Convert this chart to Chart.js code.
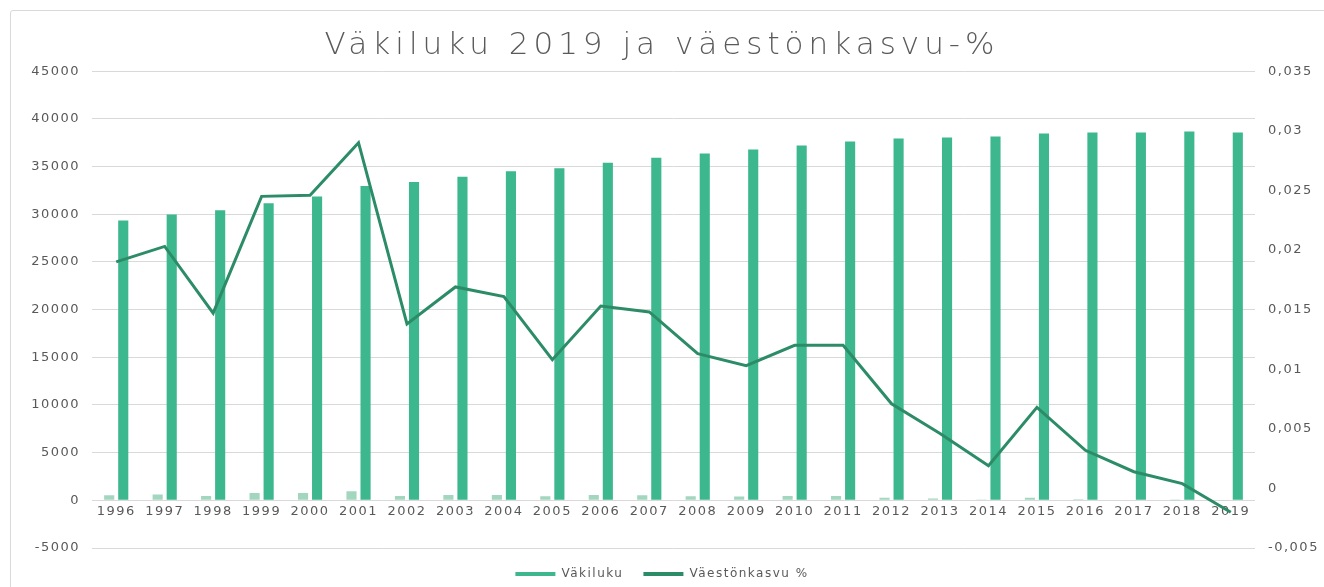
<!DOCTYPE html>
<html><head><meta charset="utf-8">
<script src="https://cdn.jsdelivr.net/npm/chart.js@4.4.1/dist/chart.umd.min.js"></script>
<style>
html,body{margin:0;padding:0;background:#fff;overflow:hidden;}
#wrap{position:absolute;left:0;top:0;width:1324px;height:587px;}
#frame{position:absolute;left:10px;top:10px;width:1330px;height:600px;border:1px solid #d9d9d9;border-radius:3px;pointer-events:none;}
</style></head><body>
<div id="wrap"><canvas id="c"></canvas></div><div id="frame"></div>
<script>
const years = ['1996','1997','1998','1999','2000','2001','2002','2003','2004','2005','2006','2007','2008','2009','2010','2011','2012','2013','2014','2015','2016','2017','2018','2019'];
const population = [29350, 29980, 30430, 31160, 31870, 32950, 33370, 33930, 34520, 34830, 35400, 35920, 36370, 36790, 37210, 37630, 37950, 38050, 38160, 38470, 38580, 38580, 38680, 38580];
const growthAbs = [540, 620, 440, 760, 770, 950, 450, 560, 560, 420, 550, 540, 430, 410, 450, 450, 260, 180, 75, 260, 120, 55, 15, -80];
const growthPct = [0.0190, 0.0203, 0.0147, 0.0245, 0.0246, 0.0290, 0.0138, 0.0169, 0.0161, 0.0108, 0.0153, 0.0148, 0.0113, 0.0103, 0.0120, 0.0120, 0.0071, 0.0046, 0.0019, 0.0068, 0.0032, 0.0014, 0.0004, -0.0020];
const leftAxis = {min: -5000, max: 45000, step: 5000};
const rightAxis = {min: -0.005, max: 0.035, step: 0.005};
const titleText = 'Väkiluku 2019 ja väestönkasvu-%';
const labelPopulation = 'Väkiluku';
const labelGrowthPct = 'Väestönkasvu %';
const labelGrowthAbs = 'Väestönkasvu';

const GRAY = '#595959';
const FONT = 'DejaVu Sans';

const spacingPlugin = {
  id: 'spacing',
  beforeLayout(chart){ chart.ctx.letterSpacing = '1.5px'; },
  beforeDraw(chart){ chart.ctx.letterSpacing = '1.5px'; }
};

const chart = new Chart(document.getElementById('c'), {
  data: {
    labels: years,
    datasets: [
      {type: 'bar', label: labelGrowthAbs, data: growthAbs, yAxisID: 'y', order: 1,
       backgroundColor: '#a3d6bf', categoryPercentage: 0.58, barPercentage: 0.72},
      {type: 'bar', label: labelPopulation, data: population, yAxisID: 'y', order: 2,
       backgroundColor: '#3db78d', categoryPercentage: 0.58, barPercentage: 0.72},
      {type: 'line', label: labelGrowthPct, data: growthPct, yAxisID: 'y1', order: 0,
       borderColor: '#2d8c68', backgroundColor: '#2d8c68', borderWidth: 3, pointRadius: 0, tension: 0}
    ]
  },
  options: {
    responsive: true, maintainAspectRatio: false, animation: false,
    layout: {padding: {left: 0, right: 0, top: 0, bottom: -3}},
    plugins: {
      title: {display: true, text: titleText, color: '#5a5a5a',
        font: {family: "'DejaVu Sans ExtraLight', 'DejaVu Sans'", size: 31, weight: 200}, padding: {top: 27, bottom: 7}},
      legend: {position: 'bottom',
        labels: {color: GRAY, font: {family: FONT, size: 12}, boxWidth: 40, boxHeight: 4, padding: 20,
          filter: (item) => item.datasetIndex !== 0,
          sort: (a, b) => a.datasetIndex - b.datasetIndex,
          generateLabels: (ch) => Chart.defaults.plugins.legend.labels.generateLabels(ch).map(it => Object.assign(it, {lineWidth: 0, strokeStyle: 'rgba(0,0,0,0)'}))
        }},
      tooltip: {enabled: false}
    },
    scales: {
      x: {position: {y: 0}, grid: {display: false, drawTicks: false}, border: {display: false},
        ticks: {color: GRAY, font: {family: FONT, size: 13}, padding: 4, autoSkip: false, maxRotation: 0},
        afterFit: (s) => { s.height = 0; }},
      y: {position: 'left', min: leftAxis.min, max: leftAxis.max,
        ticks: {stepSize: leftAxis.step, color: GRAY, font: {family: FONT, size: 13}, padding: 12,
          callback: (v) => String(v)},
        grid: {color: '#d9d9d9', lineWidth: 1, drawTicks: false}, border: {display: false},
        afterFit: (s) => { s.width = 92; }},
      y1: {position: 'right', min: rightAxis.min, max: rightAxis.max,
        ticks: {stepSize: rightAxis.step, color: GRAY, font: {family: FONT, size: 13}, padding: 13,
          callback: (v) => String(Math.round(v * 1000) / 1000).replace('.', ',')},
        grid: {display: false, drawTicks: false}, border: {display: false},
        afterFit: (s) => { s.width = 69; }}
    }
  },
  plugins: [spacingPlugin]
});

const tb = chart.titleBlock;
if (tb) {
  const origDraw = tb.draw.bind(tb);
  tb.draw = function(){
    const ctx = chart.ctx;
    const prev = ctx.letterSpacing;
    ctx.letterSpacing = '5px';
    origDraw();
    ctx.letterSpacing = prev;
  };
  chart.draw();
}
</script>
</body></html>
